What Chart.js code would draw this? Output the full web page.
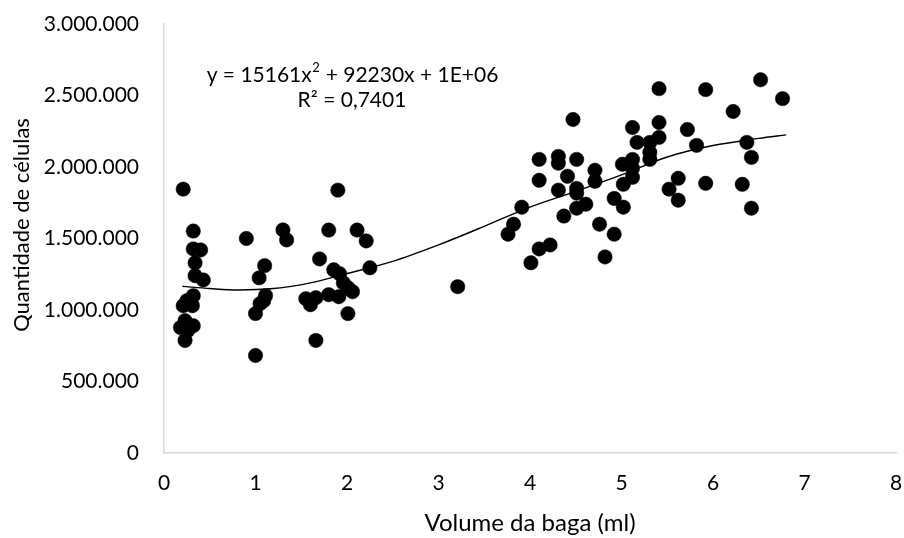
<!DOCTYPE html>
<html>
<head>
<meta charset="utf-8">
<script src="https://cdn.jsdelivr.net/npm/chart.js@4/dist/chart.umd.min.js"></script>
<style>
  html, body { margin: 0; padding: 0; background: #fff; }
  #wrap { width: 904px; height: 538px; }
</style>
</head>
<body>
<div id="wrap"><canvas id="grafico"></canvas></div>
<script>
// dados
const volumeMl = [
  0.21, 0.32, 0.32, 0.40, 0.34, 0.34, 0.43, 0.32, 0.25, 0.21, 0.31, 0.23, 0.32, 0.18, 0.26, 0.23,
  0.90, 1.30, 1.34, 1.10, 1.04, 1.11, 1.09, 1.05, 1.00, 1.00,
  1.90, 1.80, 2.11, 2.21, 1.70, 1.855, 1.92, 2.25, 1.96, 2.01, 2.06, 1.80, 1.91, 1.55, 1.66, 1.60, 2.01, 1.66,
  3.21,
  4.47, 4.10, 4.31, 4.31, 4.51, 4.10, 4.41, 4.31, 4.51, 4.51, 4.71, 4.71, 3.91, 3.82, 3.76, 4.37, 4.51, 4.61,
  4.22, 4.10, 4.01, 4.76, 4.92, 4.92, 4.82,
  5.41, 5.92, 6.52, 6.76, 6.22, 5.41, 5.12, 5.72, 5.41, 5.17, 5.31, 5.31, 5.31, 5.82, 6.37, 6.42,
  5.01, 5.12, 5.12, 5.12, 5.02, 5.02, 5.62, 5.52, 5.62, 5.92, 6.32, 6.42
];
const quantCelulas = [
  1845000, 1552000, 1427000, 1420000, 1330000, 1240000, 1210000, 1100000, 1065000, 1030000, 1030000, 926000, 890000, 877000, 856000, 787000,
  1500000, 1560000, 1490000, 1310000, 1225000, 1100000, 1065000, 1044000, 975000, 682000,
  1838000, 1559000, 1559000, 1483000, 1357000, 1281000, 1253000, 1295000, 1190000, 1156000, 1128000, 1107000, 1093000, 1079000, 1086000, 1037000, 975000, 787000,
  1163000,
  2332000, 2053000, 2074000, 2026000, 2053000, 1907000, 1935000, 1838000, 1850000, 1817000, 1977000, 1900000, 1719000, 1600000, 1530000, 1657000, 1712000, 1740000,
  1455000, 1427000, 1330000, 1600000, 1780000, 1530000, 1371000,
  2548000, 2541000, 2610000, 2478000, 2388000, 2311000, 2276000, 2262000, 2207000, 2172000, 2172000, 2102000, 2053000, 2151000, 2172000, 2067000,
  2019000, 2053000, 1991000, 1928000, 1879000, 1719000, 1921000, 1845000, 1768000, 1886000, 1879000, 1712000
];

// linha de tendencia
const trendX = [0.2, 0.5, 0.8, 1.2, 1.6, 2.0, 2.5, 3.0, 3.5, 4.0, 4.5, 5.0, 5.5, 6.0, 6.5, 6.8];
const trendY = [1165000, 1150000, 1140000, 1150000, 1190000, 1255000, 1340000, 1455000, 1585000, 1720000, 1830000, 1945000, 2070000, 2150000, 2200000, 2225000];

const equacao = ["y = 15161x", " + 92230x + 1E+06"];
const r2Texto = "R² = 0,7401";
const tituloY = "Quantidade de células";
const tituloX = "Volume da baga (ml)";

const fonte = "Lato, 'Open Sans', sans-serif";

function formataPontos(v) {
  return String(Math.round(v)).replace(/\B(?=(\d{3})+(?!\d))/g, ".");
}

const pontos = volumeMl.map((x, i) => ({ x: x, y: quantCelulas[i] }));
const tendencia = trendX.map((x, i) => ({ x: x, y: trendY[i] }));

// texto da equacao + titulo do eixo y
const textoPlugin = {
  id: "texto",
  afterDraw(chart) {
    const ctx = chart.ctx;
    const cx = 352;
    ctx.save();
    ctx.fillStyle = "#000";
    ctx.textBaseline = "middle";
    ctx.font = "21px " + fonte;
    const w1 = ctx.measureText(equacao[0]).width;
    ctx.font = "13px " + fonte;
    const w2 = ctx.measureText("2").width;
    ctx.font = "21px " + fonte;
    const w3 = ctx.measureText(equacao[1]).width;
    let x0 = cx - (w1 + w2 + w3) / 2;
    ctx.textAlign = "left";
    ctx.fillText(equacao[0], x0, 75);
    ctx.font = "13px " + fonte;
    ctx.fillText("2", x0 + w1 + 0.5, 68);
    ctx.font = "21px " + fonte;
    ctx.fillText(equacao[1], x0 + w1 + w2 + 1, 75);
    ctx.textAlign = "center";
    ctx.fillText(r2Texto, cx, 100);

    // titulo y
    ctx.translate(22, 225);
    ctx.rotate(-Math.PI / 2);
    ctx.font = "22px " + fonte;
    ctx.fillText(tituloY, 0, 0);
    ctx.restore();
  }
};

new Chart(document.getElementById("grafico"), {
  type: "scatter",
  data: {
    datasets: [
      {
        data: pontos,
        backgroundColor: "#000",
        borderColor: "#000",
        borderWidth: 0.5,
        pointRadius: 7.2,
        pointHoverRadius: 7.2
      },
      {
        type: "line",
        data: tendencia,
        borderColor: "#000",
        borderWidth: 1.4,
        pointRadius: 0,
        fill: false,
        cubicInterpolationMode: "monotone"
      }
    ]
  },
  options: {
    responsive: true,
    maintainAspectRatio: false,
    animation: false,
    layout: { padding: { left: 6, right: 8, top: 24, bottom: 0 } },
    plugins: {
      legend: { display: false },
      tooltip: { enabled: false }
    },
    scales: {
      x: {
        type: "linear",
        min: 0,
        max: 8,
        ticks: { stepSize: 1, color: "#000", font: { size: 21, family: fonte }, padding: 18 },
        grid: { color: "transparent", drawTicks: false },
        border: { color: "#d9d9d9", width: 1.5 },
        title: { display: true, text: tituloX, color: "#000", font: { size: 24, family: fonte }, padding: { top: 4, bottom: 0 } },
        afterFit(scale) {
          scale.height = 85;
          scale.paddingLeft = 0;
          scale.paddingRight = 0;
        }
      },
      y: {
        min: 0,
        max: 3000000,
        ticks: { stepSize: 500000, color: "#000", font: { size: 21, family: fonte }, padding: 25, callback: (v) => formataPontos(v) },
        grid: { color: "transparent", drawTicks: false },
        border: { color: "#d9d9d9", width: 1.5 },
        afterFit(scale) {
          scale.width = 158;
          scale.paddingTop = 0;
          scale.paddingBottom = 0;
        }
      }
    }
  },
  plugins: [textoPlugin]
});
</script>
</body>
</html>
